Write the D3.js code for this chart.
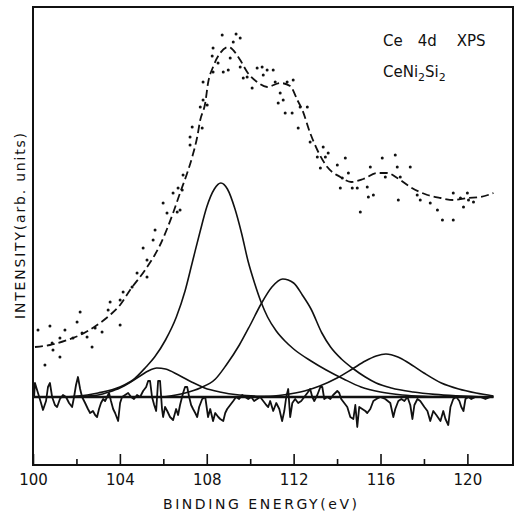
<!DOCTYPE html>
<html>
<head>
<meta charset="utf-8">
<script src="https://cdn.jsdelivr.net/npm/d3@7"></script>
<style>
  body { margin: 0; background: #fff; }
  svg text { font-family: "DejaVu Sans", sans-serif; fill: #111; }
</style>
</head>
<body>
<svg width="520" height="515"></svg>
<script>
const width = 520, height = 515;
const svg = d3.select("svg");

// ---- data: [binding energy (eV), intensity (arb.)] ----
const majorTicks = [100, 104, 108, 112, 116, 120];
const minorTicks = [102, 106, 110, 114, 118];

// measured points
const measured = [
  [100.23,33.5],[100.78,35.5],[100.55,16],[101.24,20],[100.88,27],[100.92,23.5],[101.24,29.5],
  [101.47,33.5],[101.84,29.5],[102.03,37.5],[102.17,42.5],[102.26,32],[102.49,30],[102.72,25],
  [102.86,34.5],[103.18,32.5],[103.46,43.5],[103.55,47.5],[104.01,48.5],[104.01,36],[104.15,52.5],
  [104.56,55],[104.79,62],[105.07,74.5],[105.25,68.5],[105.25,60],[105.53,78.5],[105.62,83.5],
  [105.99,97],[106.17,92],[106.45,102],[106.64,92.5],[106.77,93.5],[106.87,103.5],[106.91,111],
  [106.68,104.5],[107.23,126],[107.23,130],[107.33,135],[107.70,145],[107.79,134.5],[107.83,148.5],
  [107.83,157.5],[108.02,146],[108.25,170.5],[108.29,174.5],[108.29,162.5],[108.52,167],[108.71,181],
  [108.76,162.5],[108.99,163.5],[109.08,169.5],[109.22,177.5],[109.35,181.5],[109.54,179.5],
  [109.54,165],[109.68,159.5],[109.86,160],[110.09,154.5],[110.32,164.5],[110.55,165],[110.78,163.5],
  [110.60,161],[111.06,163.5],[111.15,157.5],[111.38,152],[111.29,147],[111.52,148.5],[111.61,142],
  [111.70,157.5],[111.93,142],[111.98,158.5],[112.21,134.5],[112.30,145],[112.63,145],[112.76,127.5],
  [113.09,120],[113.23,114.5],[113.36,125],[113.46,120],[113.59,122],[114.01,116],[114.24,109.5],
  [114.38,119.5],[114.52,112],[114.15,104.5],[114.70,104.5],[114.93,104.5],[115.07,92.5],[115.39,105],
  [115.44,100],[115.53,115],[115.67,101],[116.08,119.5],[116.22,110],[116.68,121],[116.77,115],
  [116.82,98.5],[116.91,110],[117.37,115],[117.69,101],[117.83,98.5],[118.29,97],[118.62,93.5],
  [118.85,88.5],[119.35,88.5],[119.35,102],[119.68,99.5],[119.82,95],[120.00,102],[120.05,98.5],
  [120.28,97.5]
];

// smoothed total (dashed)
const envelope = [
  [100.09,25],[100.78,26],[101.57,28.5],[102.17,31],[102.95,36],[103.55,41],[104.01,46],[104.47,53.5],
  [105.16,63.5],[105.85,76],[106.45,92],[106.77,102],[107.10,112],[107.33,120],[107.56,130],
  [107.70,138.5],[107.93,147],[108.06,157],[108.29,165],[108.62,172],[108.99,175],[109.54,168.5],
  [109.86,162.5],[110.32,157.5],[110.78,155],[111.38,157],[111.84,155.5],[112.17,148.5],[112.40,143.5],
  [112.76,132],[113.09,123.5],[113.55,115],[114.15,110],[114.65,107.5],[115.21,109],[115.85,112],
  [116.31,112],[116.77,109.5],[117.37,105],[118.16,101],[118.76,99.5],[119.35,98.5],[120.00,99.5],
  [120.60,100],[121.20,102]
];

// fitted components
const peak1 = [
  [101.5,0],[102.5,0.5],[103.0,1],[103.5,2.5],[104.0,4.5],[104.5,7.5],[105.0,11],[105.3,13],
  [105.7,14.5],[106.1,14],[106.7,11],[107.3,7.5],[107.9,4.5],[108.6,2.5],[109.5,1],[110.7,0.3],[112,0]
];
const peak2 = [
  [101.5,0],[102.5,1],[103.0,2],[104,5],[104.6,8.5],[105.2,15],[105.6,20],[106.1,28.5],[106.6,40],
  [107,53],[107.35,68],[107.7,83],[108.0,95],[108.35,104],[108.65,107],[108.95,104],[109.3,94],
  [109.6,82],[109.9,68],[110.2,57],[110.5,47.5],[110.8,40],[111.2,33],[111.6,28],[112,24],
  [112.8,18],[113.5,13.5],[114.3,9],[115.1,5],[116,2.5],[117,1],[118,0.3],[119,0]
];
const peak3 = [
  [106,0],[107,2],[107.7,4.5],[108.4,9],[108.9,16],[109.5,26],[110,36],[110.5,46.5],[111,55],
  [111.5,59],[112,57],[112.4,51],[112.8,44],[113.3,32],[113.7,25],[114.2,19],[114.7,14.5],[115.3,10],
  [115.8,7],[116.5,4.5],[117.5,2.5],[118.5,1.3],[119.5,0.6],[121,0]
];
const peak4 = [
  [110.5,0],[111.5,1],[112.5,3],[113.2,5.5],[114,9.5],[114.7,14],[115.3,18],[115.8,20.5],
  [116.25,21.5],[116.8,20],[117.3,17],[118,12],[118.8,7],[119.6,4],[120.4,2],[121.2,0.5]
];

// residual (difference) trace
const residual = [
  [100.05,0],[100.09,7],[100.23,2],[100.37,-3],[100.46,-6.5],[100.60,-2],[100.69,5],[100.78,7],
  [100.88,0],[101.01,-4],[101.11,-5],[101.24,-1],[101.38,1],[101.52,0],[101.66,-3],[101.80,-5],
  [101.89,0],[101.98,6],[102.07,10],[102.17,4],[102.26,0],[102.40,-3],[102.53,-6],[102.63,-8],
  [102.76,-7],[102.86,-9],[102.95,-10],[103.04,-6],[103.13,-3],[103.23,-1],[103.32,-2],[103.41,0],
  [103.50,2],[103.59,-2],[103.69,-6],[103.78,-8],[103.92,-12],[104.01,-3],[104.10,0],[104.24,1],
  [104.38,2],[104.52,0],[104.65,-1],[104.79,1],[104.93,0],[105.07,3],[105.21,5],[105.30,8],
  [105.39,8],[105.48,0],[105.58,-4],[105.67,-7],[105.76,8],[105.85,8],[105.94,-6],[105.99,-10],
  [106.08,-5],[106.18,-7],[106.31,-10],[106.45,-11.5],[106.59,-6],[106.68,-9],[106.77,-4],[106.91,2],
  [107.00,5],[107.10,5],[107.19,0],[107.28,-4],[107.37,-6],[107.47,-8],[107.56,-10],[107.65,-5],
  [107.79,-1],[107.93,0],[108.06,-10],[108.16,-6],[108.29,-12],[108.39,-8],[108.53,-10],[108.62,-11],
  [108.76,-12],[108.85,-8],[108.94,-6],[109.08,-4],[109.22,-2],[109.35,0],[109.49,-1],[109.63,1],
  [109.77,0],[109.91,-1],[110.05,0],[110.18,-2],[110.32,-1],[110.46,0],[110.60,-2],[110.74,-4],
  [110.83,-5],[110.92,-2],[111.06,-7],[111.20,-3],[111.34,-6],[111.47,-12],[111.57,-7],[111.66,0],
  [111.75,4],[111.84,-10],[111.94,-3],[112.07,-1],[112.21,-3],[112.35,-2],[112.49,0],[112.63,2],
  [112.76,4],[112.86,0],[112.95,-2],[113.09,1],[113.23,5],[113.32,5],[113.41,-1],[113.55,0],
  [113.69,-1],[113.82,1],[114.01,3],[114.10,2],[114.19,-1],[114.33,-3],[114.47,-5],[114.61,-10],
  [114.75,-11],[114.84,-4],[114.93,-15],[115.02,-5],[115.16,-6],[115.30,-7],[115.39,-8],[115.53,-6],
  [115.67,-2],[115.81,-1],[115.99,0],[116.22,-1],[116.45,-3],[116.59,-10],[116.68,-6],[116.82,-2],
  [116.96,-1],[117.10,-2],[117.24,0],[117.37,-4],[117.47,-11],[117.56,-4],[117.70,-1],[117.83,-2],
  [118.02,-5],[118.16,-7],[118.29,-12],[118.43,-7],[118.57,-9],[118.76,-12],[118.89,-7],[118.99,-11],
  [119.12,-14],[119.22,-5],[119.35,-1],[119.49,0],[119.63,-2],[119.72,-5],[119.82,-7],[119.91,-1],
  [120.05,0],[120.18,-1],[120.37,0],[120.60,0],[120.83,-1],[121.06,0],[121.20,0]
];
const zeroLine = [[100, 0], [121.2, 0]];

// ---- scales ----
const x = d3.scaleLinear().domain([100, 122.1]).range([33, 513]);
const y = d3.scaleLinear().domain([-34, 195]).range([465, 7]);

const smooth = d3.line().x(d => x(d[0])).y(d => y(d[1])).curve(d3.curveMonotoneX);
const straight = d3.line().x(d => x(d[0])).y(d => y(d[1]));

// frame
svg.append("rect")
  .attr("x", x(100)).attr("y", y(195))
  .attr("width", x(122.1) - x(100)).attr("height", y(-34) - y(195))
  .attr("fill", "none").attr("stroke", "#111").attr("stroke-width", 2);

// bottom ticks, pointing inwards
const axisMajor = d3.axisBottom(x).tickValues(majorTicks).tickSize(-11).tickFormat(d3.format("d"));
const gx = svg.append("g").attr("transform", `translate(0,${y(-34)})`).call(axisMajor);
gx.select(".domain").remove();
gx.selectAll(".tick line").attr("stroke", "#111").attr("stroke-width", 1.6);
gx.selectAll(".tick text")
  .attr("y", 9).attr("dy", "0.71em")
  .style("font-size", "15px").style("font-family", "DejaVu Sans, sans-serif").attr("fill", "#111");

const axisMinor = d3.axisBottom(x).tickValues(minorTicks).tickSize(-6).tickFormat("");
const gm = svg.append("g").attr("transform", `translate(0,${y(-34)})`).call(axisMinor);
gm.select(".domain").remove();
gm.selectAll(".tick line").attr("stroke", "#111").attr("stroke-width", 1.6);

// zero line and residual
svg.append("path").datum(zeroLine).attr("d", straight)
  .attr("fill", "none").attr("stroke", "#111").attr("stroke-width", 2.6);
svg.append("path").datum(residual).attr("d", straight)
  .attr("fill", "none").attr("stroke", "#111").attr("stroke-width", 1.8)
  .attr("stroke-linejoin", "round");

// fitted components
[peak1, peak2, peak3, peak4].forEach(p => {
  svg.append("path").datum(p).attr("d", smooth)
    .attr("fill", "none").attr("stroke", "#111").attr("stroke-width", 1.6);
});

// dashed envelope
svg.append("path").datum(envelope).attr("d", smooth)
  .attr("fill", "none").attr("stroke", "#111").attr("stroke-width", 1.8)
  .attr("stroke-dasharray", "8,4");

// data points
svg.selectAll("circle.pt").data(measured).enter().append("circle")
  .attr("class", "pt")
  .attr("cx", d => x(d[0])).attr("cy", d => y(d[1]))
  .attr("r", 1.5).attr("fill", "#111");

// axis titles
svg.append("text")
  .attr("x", 260).attr("y", 509)
  .attr("text-anchor", "middle")
  .attr("textLength", 194).attr("lengthAdjust", "spacing")
  .style("font-size", "14px")
  .text("BINDING ENERGY(eV)");

svg.append("text")
  .attr("transform", "translate(25,226) rotate(-90)")
  .attr("text-anchor", "middle")
  .attr("textLength", 186).attr("lengthAdjust", "spacing")
  .style("font-size", "14px")
  .text("INTENSITY(arb. units)");

// labels in the plot
const t1 = svg.append("text").attr("x", 383).attr("y", 46).style("font-size", "15px");
t1.append("tspan").text("Ce");
t1.append("tspan").attr("dx", 15).text("4d");
t1.append("tspan").attr("dx", 20).text("XPS");

const t2 = svg.append("text").attr("x", 383).attr("y", 77).style("font-size", "15px");
t2.append("tspan").text("CeNi");
t2.append("tspan").attr("dy", 4).style("font-size", "11px").text("2");
t2.append("tspan").attr("dy", -4).text("Si");
t2.append("tspan").attr("dy", 4).style("font-size", "11px").text("2");
</script>
</body>
</html>
